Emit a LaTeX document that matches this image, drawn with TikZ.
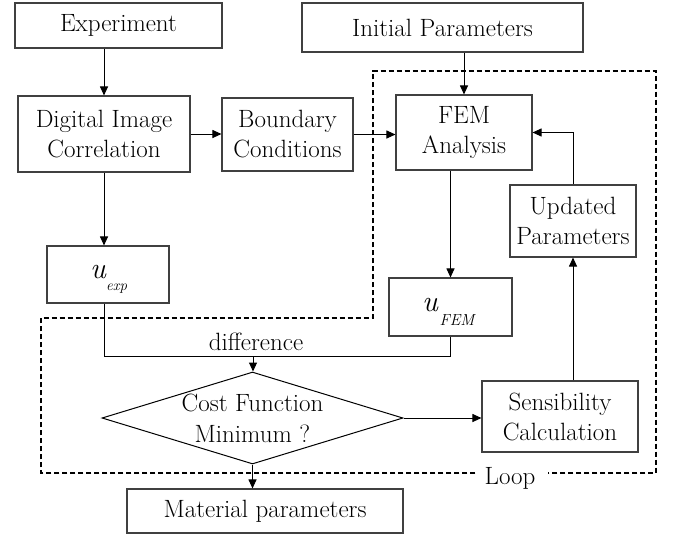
\documentclass[tikz,border=0pt]{standalone}
\usepackage{fontspec}
\usetikzlibrary{arrows.meta,shapes.geometric}
\begin{document}
\begin{tikzpicture}[x=1pt,y=-1pt,
  box/.style={draw=black!75, line width=1.1pt, rectangle, inner sep=0pt, align=center, font=\fontsize{25}{30}\selectfont},
  conn/.style={line width=1pt, -{Triangle[length=9pt,width=8pt]}},
  plain/.style={line width=1pt},
  txt/.style={inner sep=0pt, font=\fontsize{25}{30}\selectfont},
  loopline/.style={line width=2pt, dash pattern=on 5pt off 3pt}]
\useasboundingbox (0,0) rectangle (676,535);
% boxes
\node[box, minimum width=207pt, minimum height=45pt] (exp) at (118.5,25.5) {Experiment};
\node[box, minimum width=281pt, minimum height=49pt] (init) at (442.5,27.5) {Initial Parameters};
\node[box, minimum width=172pt, minimum height=76pt] (dic) at (104,134) {Digital Image\\Correlation};
\node[box, minimum width=131pt, minimum height=73pt] (bc) at (287.5,134.5) {Boundary\\Conditions};
\node[box, minimum width=136pt, minimum height=75pt] (fem) at (464,132.5) {FEM\\Analysis};
\node[box, minimum width=126pt, minimum height=72pt] (upd) at (573,221) {Updated\\Parameters};
\node[box, minimum width=122pt, minimum height=57pt] (uexp) at (108,274.5) {};
\node[box, minimum width=123pt, minimum height=58pt] (ufem) at (450.5,307) {};
\node[draw=black, line width=1pt, diamond, shape aspect=3.27, inner sep=0pt, minimum width=301pt, minimum height=92pt] (dia) at (252.5,418) {};
\node[inner sep=0pt, align=center, font=\fontsize{25}{31}\selectfont] (diatext) at (dia.center) {Cost Function\\Minimum ?};
\node[box, minimum width=156pt, minimum height=71pt] (sens) at (560,416.5) {Sensibility\\Calculation};
\node[box, minimum width=276pt, minimum height=44pt] (mat) at (265,511) {Material parameters};
% u labels
\node[inner sep=0pt, font=\fontsize{30}{30}\selectfont\itshape] (uexpu) at (98,272) {u};
\node[inner sep=0pt, font=\fontsize{15}{15}\selectfont\itshape] (uexps) at (116.5,289) {exp};
\node[inner sep=0pt, font=\fontsize{30}{30}\selectfont\itshape] (ufemu) at (430,305) {u};
\node[inner sep=0pt, font=\fontsize{16}{16}\selectfont\itshape] (ufems) at (457,320) {FEM};
% texts
\node[txt] (diff) at (256,342) {difference};
\node[txt] (loop) at (510,478) {Loop};
% loop outline
\coordinate (lb) at (0,473);
\draw[loopline] ([xshift=-9pt]loop.west |- lb) -- (41,473) -- (41,318) -- (373,318) -- (373,71) -- (656,71) -- (656,473) -- ([xshift=12pt]loop.east |- lb);
% connectors
\draw[conn] (exp.south -| dic.north) -- (dic.north);
\draw[conn] (init.south -| fem.north) -- (fem.north);
\draw[conn] (dic.east) -- (dic.east -| bc.west);
\draw[conn] (bc.east) -- (bc.east -| fem.west);
\draw[conn] (dic.south) -- (uexp.north -| dic.south);
\draw[conn] (fem.south -| ufem.north) -- (ufem.north);
\coordinate (dj) at (253,356);
\draw[plain] (uexp.south -| dic.south) |- (dj);
\draw[plain] (ufem.south) |- (dj);
\draw[conn] (dj) -- (dj |- dia.north);
\draw[conn] (dia.east) -- (sens.west |- dia.east);
\draw[conn] (sens.north -| upd.south) -- (upd.south);
\draw[conn] (upd.north) |- (fem.east);
\draw[conn] (dia.south) -- (dia.south |- mat.north);
\end{tikzpicture}
\end{document}
